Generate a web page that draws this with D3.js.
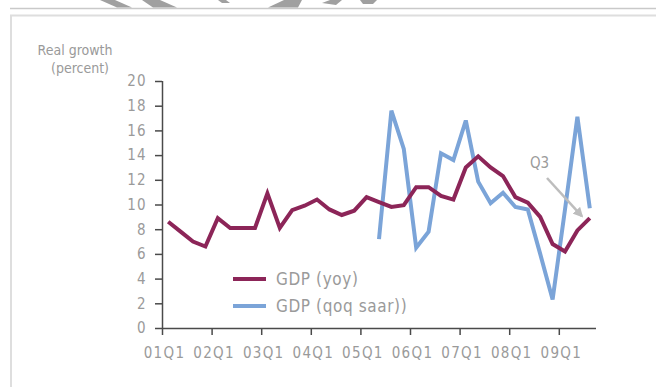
<!DOCTYPE html>
<html>
<head>
<meta charset="utf-8">
<script src="https://cdn.jsdelivr.net/npm/d3@7"></script>
<style>
  html, body { margin: 0; padding: 0; background: #fff; }
  svg { display: block; }
  text { font-family: "Liberation Sans Narrow", "DejaVu Sans Condensed", "Liberation Sans", sans-serif; fill: #9a9a9a; }
</style>
</head>
<body>
<svg id="chart" width="656" height="387"></svg>
<script>
// Quarterly real GDP growth, 2001Q1 - 2009Q3
const quarters = [
  "01Q1","01Q2","01Q3","01Q4","02Q1","02Q2","02Q3","02Q4",
  "03Q1","03Q2","03Q3","03Q4","04Q1","04Q2","04Q3","04Q4",
  "05Q1","05Q2","05Q3","05Q4","06Q1","06Q2","06Q3","06Q4",
  "07Q1","07Q2","07Q3","07Q4","08Q1","08Q2","08Q3","08Q4",
  "09Q1","09Q2","09Q3"
];
const gdpYoy = [
  8.6, 7.8, 7.0, 6.6, 8.9, 8.1, 8.1, 8.1,
  10.9, 8.1, 9.55, 9.9, 10.4, 9.6, 9.15, 9.5,
  10.6, 10.2, 9.8, 9.95, 11.4, 11.4, 10.7, 10.4,
  13.0, 13.9, 13.0, 12.3, 10.6, 10.15, 9.0, 6.8,
  6.2, 7.9, 8.9
];
const gdpQoq = [
  null, null, null, null, null, null, null, null,
  null, null, null, null, null, null, null, null,
  null, 7.2, 17.6, 14.5, 6.5, 7.8, 14.15, 13.6,
  16.8, 11.85, 10.1, 10.95, 9.8, 9.6, 6.0, 2.3,
  9.6, 17.1, 9.7
];
const yTicks = [0, 2, 4, 6, 8, 10, 12, 14, 16, 18, 20];
const xTickLabels = ["01Q1","02Q1","03Q1","04Q1","05Q1","06Q1","07Q1","08Q1","09Q1"];
const seriesNames = ["GDP (yoy)", "GDP (qoq saar))"];
const colors = ["#8c2558", "#7ba4d8"];

const svg = d3.select("#chart");

// page frame
svg.append("line").attr("x1", 10).attr("x2", 656).attr("y1", 8.5).attr("y2", 8.5)
  .attr("stroke", "#c9c9c9").attr("stroke-width", 1.6);
svg.append("path").attr("d", "M11,387 V15.5 H656")
  .attr("fill", "none").attr("stroke", "#dedede").attr("stroke-width", 2);

// faded banner artwork above the frame
const deco = svg.append("g").attr("fill", "#a0a0a0");
const decoShapes = [
  "M100,0 L115,0 L132,7.5 L117,7.5 Z",
  "M142,0 L160,0 L177,7.5 L153,7.5 Z",
  "M218,0 L226,0 L230,3 L222,3 Z",
  "M268,7.5 L284,0 L302,0 L298,7.5 Z",
  "M322,3 L330,0 L342,0 L336,5 Z",
  "M360,0 L377,0 L373,4 L363,4 Z"
];
decoShapes.forEach(d => deco.append("path").attr("d", d));

const x = d3.scaleLinear().domain([0, quarters.length]).range([162, 596]);
const y = d3.scaleLinear().domain([0, 20]).range([328, 81]);
const px = i => x(i + 0.5);

// axes
const yAxis = d3.axisLeft(y).tickValues(yTicks).tickSize(7).tickPadding(8).tickFormat(d3.format("d"));
const gy = svg.append("g").attr("transform", `translate(${x(0)},0)`).call(yAxis);
const tickIdx = xTickLabels.map(l => quarters.indexOf(l));
const xAxis = d3.axisBottom(x).tickValues(tickIdx).tickSize(7).tickPadding(12)
  .tickFormat(i => quarters[i]);
const gx = svg.append("g").attr("transform", `translate(0,${y(0)})`).call(xAxis);

[gx, gy].forEach(g => {
  g.select(".domain").attr("stroke", "#4a4a4a").attr("stroke-width", 1.5);
  g.selectAll(".tick line").attr("stroke", "#4a4a4a").attr("stroke-width", 1.5);
  g.selectAll(".tick text").attr("fill", "#9a9a9a").style("font-size", "15px").style("letter-spacing", "1.3px");
});
gx.select(".domain").attr("d", `M${x(0)},0.5H${x(quarters.length)}`);
gy.select(".domain").attr("d", `M0.5,${y(20)}V${y(0)}`);
gx.selectAll(".tick text").attr("dx", 2);

// axis title
svg.append("text").attr("x", 75).attr("y", 55).attr("text-anchor", "middle")
  .style("font-size", "14px").attr("fill", "#a2a2a2").text("Real growth");
svg.append("text").attr("x", 80).attr("y", 73).attr("text-anchor", "middle")
  .style("font-size", "14px").attr("fill", "#a2a2a2").text("(percent)");

// series lines
const line = d3.line()
  .defined(d => d != null)
  .x((d, i) => px(i))
  .y(d => y(d));

[gdpQoq, gdpYoy].forEach(s => {
  const k = s === gdpYoy ? 0 : 1;
  svg.append("path").datum(s)
    .attr("fill", "none").attr("stroke", colors[k]).attr("stroke-width", 4)
    .attr("stroke-linejoin", "miter").attr("stroke-miterlimit", 3)
    .attr("d", line);
});

// legend
const legend = svg.append("g");
seriesNames.forEach((name, k) => {
  const ly = 279 + k * 27;
  legend.append("line").attr("x1", 233).attr("x2", 266).attr("y1", ly).attr("y2", ly)
    .attr("stroke", colors[k]).attr("stroke-width", 4);
  legend.append("text").attr("x", 276).attr("y", ly + 6)
    .style("font-size", "17px").style("letter-spacing", "0.6px").text(name);
});

// Q3 annotation
const defs = svg.append("defs");
defs.append("marker").attr("id", "arrow").attr("viewBox", "0 0 10 10")
  .attr("refX", 8).attr("refY", 5).attr("markerWidth", 4).attr("markerHeight", 4)
  .attr("orient", "auto")
  .append("path").attr("d", "M0,0 L10,5 L0,10 Z").attr("fill", "#bdbdbd");
svg.append("text").attr("x", 530).attr("y", 168).style("font-size", "15px").text("Q3");
const last = quarters.length - 1;
svg.append("line")
  .attr("x1", 547).attr("y1", 178)
  .attr("x2", px(last) - 8).attr("y2", y(gdpYoy[last]) - 2)
  .attr("stroke", "#bdbdbd").attr("stroke-width", 2.5)
  .attr("marker-end", "url(#arrow)");
</script>
</body>
</html>
